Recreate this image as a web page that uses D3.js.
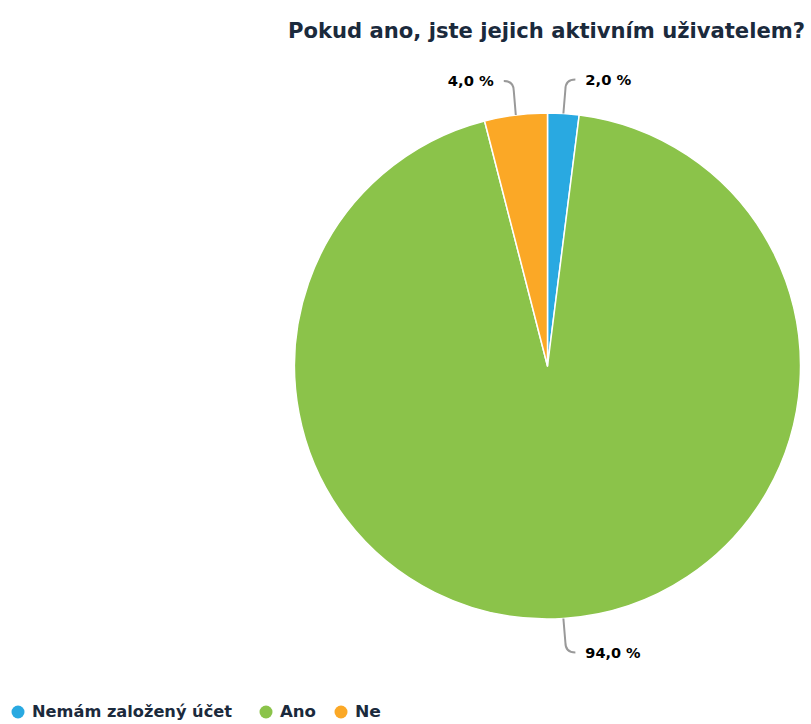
<!DOCTYPE html>
<html>
<head>
<meta charset="utf-8">
<script src="https://cdn.jsdelivr.net/npm/d3@7"></script>
<style>
  html, body { margin: 0; padding: 0; background: #fff; }
  svg { display: block; }
</style>
</head>
<body>
<svg id="chart" width="811" height="724"></svg>
<script>
// Survey answers
const categories = ["Nemám založený účet", "Ano", "Ne"];
const shares = [2.0, 94.0, 4.0];
const colors = ["#29a9e1", "#8bc34a", "#fba826"];
const titleText = "Pokud ano, jste jejich aktivním uživatelem?";

const svg = d3.select("#chart");
const cx = 547.5, cy = 366, R = 253;
const font = "'DejaVu Sans Condensed', 'DejaVu Sans', sans-serif";

// Title, right aligned
svg.append("text")
  .attr("x", 805).attr("y", 38)
  .attr("text-anchor", "end")
  .attr("font-family", font)
  .attr("font-weight", 700)
  .attr("font-size", 22)
  .attr("textLength", 517)
  .attr("lengthAdjust", "spacingAndGlyphs")
  .attr("fill", "#1b2a3c")
  .text(titleText);

const data = categories.map((c, i) => ({ name: c, value: shares[i], color: colors[i] }));
const pie = d3.pie().value(d => d.value).sort(null);
const arcs = pie(data);
const arc = d3.arc().innerRadius(0).outerRadius(R);

const g = svg.append("g").attr("transform", `translate(${cx},${cy})`);

g.selectAll("path.slice")
  .data(arcs)
  .join("path")
  .attr("class", "slice")
  .attr("d", arc)
  .attr("fill", d => d.data.color)
  .attr("stroke", "#fff")
  .attr("stroke-width", 1.5)
  .attr("stroke-linejoin", "round");

// Data labels with bent connectors
const labelLayer = g.append("g");
arcs.forEach(a => {
  const mid = (a.startAngle + a.endAngle) / 2;
  const sx = Math.sin(mid) * R, sy = -Math.cos(mid) * R;
  const up = sy < 0;
  const right = Math.sin(mid) >= 0;
  const dir = right ? 1 : -1;
  const vy = up ? -1 : 1;
  const ey = sy + vy * 34;
  const ex = sx + dir * 12;
  const p = d3.path();
  p.moveTo(sx, sy);
  p.lineTo(sx + dir * 2, ey - vy * 10);
  p.quadraticCurveTo(sx + dir * 2, ey, ex, ey);
  labelLayer.append("path")
    .attr("d", p.toString())
    .attr("fill", "none")
    .attr("stroke", "#999")
    .attr("stroke-width", 2);
  const label = d3.format(".1f")(a.data.value).replace(".", ",") + " %";
  labelLayer.append("text")
    .attr("x", ex + dir * 10)
    .attr("y", ey + 5)
    .attr("text-anchor", right ? "start" : "end")
    .attr("font-family", font)
    .attr("font-weight", 700)
    .attr("font-size", 14)
    .attr("textLength", label.length * 9.2)
    .attr("lengthAdjust", "spacingAndGlyphs")
    .attr("fill", "#000")
    .text(label);
});

// Legend along the bottom
const legend = svg.append("g").attr("transform", "translate(18,712)");
const itemX = [0, 248, 323];
const itemW = [200, 36, 26];
data.forEach((d, i) => {
  const item = legend.append("g").attr("transform", `translate(${itemX[i]},0)`);
  item.append("circle").attr("r", 6.5).attr("fill", d.color);
  item.append("text")
    .attr("x", 14).attr("y", 5)
    .attr("font-family", font)
    .attr("font-weight", 700)
    .attr("font-size", 15)
    .attr("textLength", itemW[i])
    .attr("lengthAdjust", "spacingAndGlyphs")
    .attr("fill", "#1b2a3c")
    .text(d.name);
});
</script>
</body>
</html>
